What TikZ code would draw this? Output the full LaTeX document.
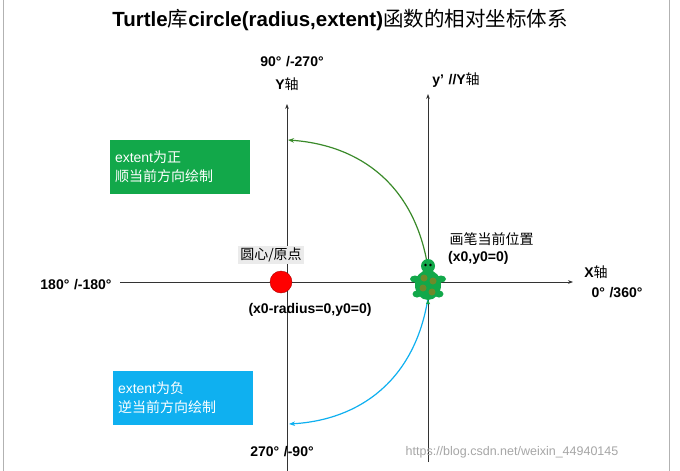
\documentclass[tikz,border=0pt]{standalone}
\usepackage{fontspec}
\setmainfont{Liberation Sans}
\newfontfamily\cjk{Noto Sans CJK SC}
\usetikzlibrary{arrows.meta}
\definecolor{tg}{HTML}{12A84A}
\definecolor{tb}{HTML}{0FB0F0}
\definecolor{arcg}{HTML}{3A8A2A}
\definecolor{spot}{HTML}{6E8A2A}
\tikzset{ax/.style={-{Stealth[length=5pt]},line width=0.8pt,black!80},
 lbl/.style={font=\bfseries\fontsize{14}{16}\selectfont,inner sep=1pt},
 box/.style={text=white,font=\fontsize{14}{19}\selectfont,align=left,inner sep=5pt,minimum width=140pt,minimum height=54pt,text width=130pt}}
\begin{document}
\begin{tikzpicture}[x=1pt,y=-1pt]
\useasboundingbox (0,0) rectangle (680,471);
\fill[white] (0,0) rectangle (680,471);
\draw[gray!60] (3,0) -- (3,471) (669,0) -- (669,471);
\node (title) at (340,20) {\bfseries\fontsize{20.5}{24}\selectfont Turtle{\cjk\mdseries 库}circle(radius,extent){\cjk\mdseries 函数的相对坐标体系}};
\coordinate (yb) at (287,472); \coordinate (yt) at (287,104);
\coordinate (xl) at (120,282); \coordinate (xr) at (573,282);
\coordinate (pb) at (428,462); \coordinate (pt) at (428,94);
\draw[ax] (yb) -- (yt);
\draw[ax] (xl) -- (xr);
\draw[ax] (pb) -- (pt);
\node[lbl] (a90) at (292,62) {90°\,\,/-270°};
\node[lbl] (ya) at (287,84) {Y{\cjk\mdseries 轴}};
\node[lbl] (ypa) at (456,80) {y’\,\,//Y{\cjk\mdseries 轴}};
\node[lbl] (a180) at (76,285) {180°\,\,/-180°};
\node[lbl] (xa) at (596,272) {X{\cjk\mdseries 轴}};
\node[lbl] (a0) at (617,293) {0°\,\,/360°};
\node[lbl] (a270) at (282,452) {270°\,\,/-90°};
\node[box,fill=tg] (gbox) at (180,167) {extent{\cjk 为正}\\{\cjk 顺当前方向绘制}};
\node[box,fill=tb] (bbox) at (183,398) {extent{\cjk 为负}\\{\cjk 逆当前方向绘制}};
\node[fill=black!8,font=\cjk\fontsize{14}{16}\selectfont,inner sep=2pt] (cen) at (271,255) {圆心/原点};
\node[circle,fill=red,draw=red!70!black,minimum size=22pt,inner sep=0pt] (org) at (281,282) {};
\node[lbl] (xrad) at (310,310) {(x0-radius=0,y0=0)};
\node[font=\cjk\fontsize{14}{16}\selectfont,anchor=west] (pen) at (446,239) {画笔当前位置};
\node[lbl,anchor=west] (x0) at (447,258) {(x0,y0=0)};
\coordinate (tur) at (428,282);
\draw[arcg,line width=1.2pt,-{Stealth[length=6pt]}] (428,268) .. controls (415,185) and (360,145) .. (288,140);
\draw[tb,line width=1.2pt,-{Stealth[length=6pt]}] (428,298) .. controls (415,380) and (360,420) .. (289,424);
\begin{scope}[shift={(tur)}]
\fill[tg] (-13,-3) ellipse (5 and 3.5) (13,-3) ellipse (5 and 3.5) (-11,12) ellipse (4.5 and 3.5) (11,12) ellipse (4.5 and 3.5);
\fill[tg] (0,-16) circle (7);
\fill[tg] (0,3) ellipse (13 and 15);
\fill[tg] (0,18) -- (-2,22) -- (2,22) -- cycle;
\fill[black] (-2.5,-17) circle (1.3) (2.5,-17) circle (1.3);
\fill[spot] (-4,-4) circle (3.5) (5,-1) circle (3.5) (-5,6) circle (3.5) (4,10) circle (3.5);
\end{scope}
\node[gray!70,font=\fontsize{12.5}{14}\selectfont] (wm) at (512,452) {https://blog.csdn.net/weixin\_44940145};
\end{tikzpicture}
\end{document}
